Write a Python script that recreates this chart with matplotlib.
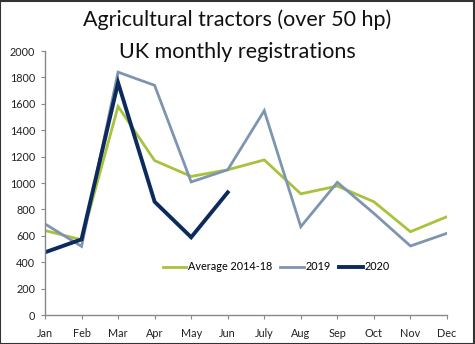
import matplotlib
matplotlib.use("Agg")
import matplotlib.pyplot as plt

plt.rcParams['font.family'] = ['Lato', 'DejaVu Sans']

months = ["Jan", "Feb", "Mar", "Apr", "May", "Jun", "July", "Aug", "Sep", "Oct", "Nov", "Dec"]
avg_2014_18 = [640, 570, 1580, 1170, 1050, 1100, 1175, 918, 977, 858, 631, 745]
y2019 = [690, 520, 1840, 1740, 1008, 1100, 1548, 669, 1005, 770, 523, 619]
y2020 = [475, 573, 1760, 858, 589, 929]

fig = plt.figure(figsize=(4.75, 3.44), dpi=100)
ax = fig.add_axes([0.0947, 0.0843, 0.8463, 0.7674])

x = list(range(len(months)))
ax.plot(x, avg_2014_18, color="#A8C23C", lw=2.0, label="Average 2014-18", solid_joinstyle="miter")
ax.plot(x, y2019, color="#7E95B0", lw=2.0, label="2019", solid_joinstyle="miter")
ax.plot(x[:len(y2020)], y2020, color="#0D2A5C", lw=2.8, label="2020", solid_joinstyle="miter")

ax.set_xlim(0, 11)
ax.set_ylim(0, 2000)
ax.set_yticks(range(0, 2001, 200))
ax.set_xticks(x)
ax.set_xticklabels(months)
for s in ["top", "right"]:
    ax.spines[s].set_visible(False)
for s in ["left", "bottom"]:
    ax.spines[s].set_color("#888888")
    ax.spines[s].set_linewidth(1.0)
ax.tick_params(axis="both", which="both", direction="out", length=3, color="#888888",
               labelsize=7.8, labelcolor="#222222", pad=4)
ax.tick_params(axis="x", pad=6)

leg = ax.legend(loc="center", bbox_to_anchor=(276 / 475, (344 - 267) / 344), bbox_transform=fig.transFigure,
                ncol=3, frameon=False, fontsize=7.8, handlelength=2.2, handletextpad=0.1,
                columnspacing=0.8)

fig.text(0.5, 1 - 20 / 344, "Agricultural tractors (over 50 hp)", ha="center", va="center", fontsize=15.5, color="#111111")
fig.text(0.5, 1 - 52 / 344, "UK monthly registrations", ha="center", va="center", fontsize=15.5, color="#111111")

border = plt.Rectangle((0.001, 0.001), 0.997, 0.996, transform=fig.transFigure, fill=False,
                       edgecolor="#333333", lw=1.5)
fig.patches.append(border)

fig.savefig("out.png", dpi=100)
